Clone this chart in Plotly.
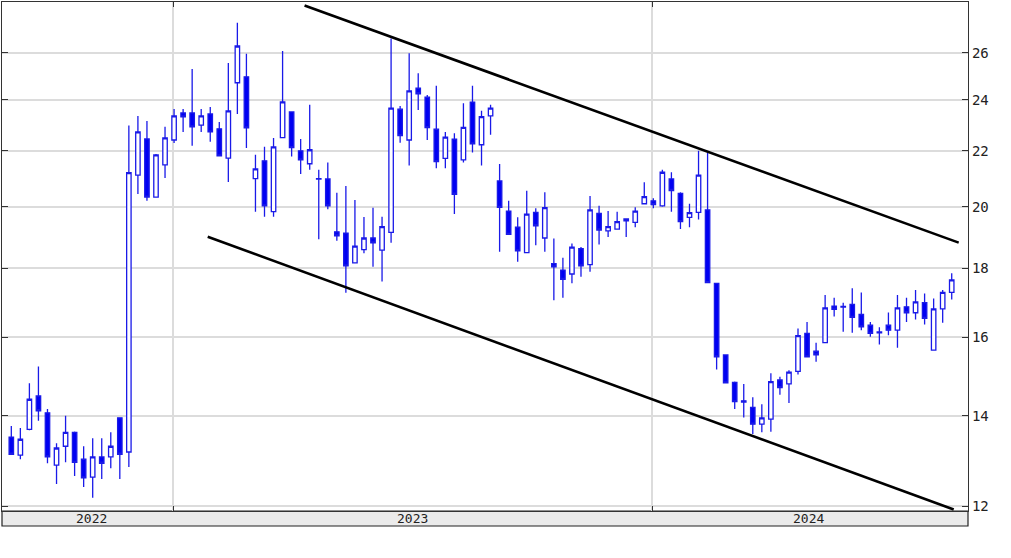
import plotly.graph_objects as go
import math

# Weekly OHLC values (price, log scale)
opens = [13.50, 13.09, 13.68, 14.48, 14.07, 12.87, 13.29, 13.61, 13.00, 12.61,
         13.05, 13.05, 13.95, 13.16, 21.11, 22.45, 20.33, 21.48, 22.41, 23.47,
         23.47, 22.99, 23.43, 22.84, 21.73, 24.71, 24.96, 20.98, 21.63, 19.83,
         22.50, 23.51, 22.00, 21.52, 20.96, 20.97, 19.16, 19.12, 18.17, 18.59,
         18.96, 18.57, 19.14, 23.62, 22.41, 24.48, 24.11, 22.83, 21.72, 22.44,
         21.66, 23.91, 22.23, 23.35, 20.90, 19.85, 19.31, 18.49, 19.81, 18.96,
         18.15, 17.95, 17.83, 18.62, 18.12, 19.77, 19.19, 19.25, 19.52, 19.47,
         20.10, 20.20, 20.03, 20.97, 20.46, 19.64, 19.81, 19.89, 17.55, 15.53,
         14.82, 14.36, 14.20, 13.80, 13.92, 14.88, 14.78, 15.10, 16.11, 15.63,
         15.86, 16.88, 16.85, 16.93, 16.64, 16.34, 16.13, 16.34, 16.20, 16.86,
         16.69, 16.98, 15.66, 16.80, 17.28]
highs = [13.76, 13.71, 14.80, 15.23, 14.16, 13.36, 14.00, 13.63, 13.29, 13.47,
         13.47, 13.61, 13.96, 22.97, 23.35, 23.15, 21.88, 22.92, 23.63, 23.63,
         25.30, 23.63, 23.71, 23.11, 25.56, 27.37, 25.96, 21.85, 22.15, 22.49,
         26.09, 23.53, 22.45, 23.80, 21.30, 21.57, 20.48, 20.72, 20.23, 19.65,
         19.96, 19.66, 26.65, 23.75, 25.99, 25.11, 24.20, 24.58, 22.72, 22.67,
         23.86, 24.58, 23.56, 23.80, 21.51, 20.20, 19.64, 20.55, 19.95, 20.50,
         18.94, 18.33, 18.78, 18.67, 20.37, 20.03, 19.85, 19.83, 19.61, 19.98,
         20.85, 20.29, 21.30, 21.21, 20.50, 20.10, 22.00, 21.92, 17.56, 15.55,
         14.84, 14.78, 14.45, 14.28, 15.05, 14.96, 15.13, 16.25, 16.43, 15.86,
         17.20, 17.12, 16.98, 17.40, 17.28, 16.43, 16.28, 16.70, 17.20, 17.12,
         17.35, 17.25, 17.10, 17.35, 17.85]
lows = [13.10, 13.00, 13.66, 13.88, 12.91, 12.46, 12.93, 12.63, 12.40, 12.17,
        12.57, 12.80, 12.57, 12.83, 20.44, 20.20, 20.31, 21.00, 22.30, 22.72,
        22.19, 22.72, 22.34, 21.80, 20.86, 23.43, 22.11, 19.83, 19.66, 19.66,
        22.48, 21.79, 21.15, 21.30, 18.92, 19.91, 18.87, 17.27, 18.15, 18.47,
        18.05, 17.60, 18.81, 22.31, 21.46, 23.59, 22.41, 21.36, 21.36, 19.75,
        21.57, 21.94, 21.46, 22.61, 18.52, 19.06, 18.21, 18.47, 18.73, 18.52,
        17.05, 17.12, 17.55, 17.75, 17.90, 18.75, 18.99, 19.24, 18.99, 19.31,
        20.09, 19.95, 20.00, 19.83, 19.25, 19.31, 19.57, 17.56, 15.15, 14.80,
        14.16, 13.96, 13.57, 13.61, 13.62, 14.51, 14.31, 15.02, 15.47, 15.35,
        15.85, 16.58, 16.16, 16.13, 16.20, 16.02, 15.81, 16.06, 15.72, 16.43,
        16.50, 16.36, 15.65, 16.41, 17.07]
closes = [13.11, 13.45, 14.40, 14.12, 13.05, 13.25, 13.61, 12.93, 12.59, 13.05,
          12.91, 13.29, 13.11, 21.20, 22.72, 20.33, 21.85, 22.49, 23.35, 23.31,
          22.92, 23.35, 22.72, 21.81, 23.55, 26.31, 22.88, 21.33, 20.03, 22.15,
          23.92, 22.12, 21.66, 22.04, 20.98, 20.03, 19.03, 18.08, 18.70, 18.96,
          18.80, 19.33, 23.66, 22.58, 24.37, 24.25, 22.89, 21.60, 22.52, 20.43,
          22.90, 22.26, 23.32, 23.66, 19.98, 19.08, 18.55, 19.75, 19.36, 19.97,
          18.05, 17.67, 18.67, 18.08, 19.89, 19.22, 19.33, 19.50, 19.59, 19.85,
          20.35, 20.07, 21.21, 20.56, 19.50, 19.80, 21.11, 17.57, 15.48, 14.81,
          14.34, 14.33, 13.80, 13.95, 14.84, 14.69, 15.08, 16.05, 15.48, 15.53,
          16.83, 16.79, 16.87, 16.56, 16.29, 16.11, 16.15, 16.20, 16.83, 16.69,
          17.00, 16.53, 16.80, 17.28, 17.65]
week_index = list(range(len(opens)))

# Axis labelling
year_labels = ["2022", "2023", "2024"]
year_label_pos = [8.9, 44.4, 88.2]
year_start_pos = [17.9, 70.9]
price_ticks = [12, 14, 16, 18, 20, 22, 24, 26]

# Channel trend lines (week index, price)
upper_trend_x = [32.43, 104.77]
upper_trend_y = [28.19, 18.81]
lower_trend_x = [21.72, 104.22]
lower_trend_y = [19.00, 11.93]

BLUE = "#1a1ae8"
W, H = 1011, 558
ML, MR, MT, MB = 2, 43, 2, 47
plot_h = H - MT - MB

fig = go.Figure()
fig.add_trace(go.Candlestick(
    x=week_index, open=opens, high=highs, low=lows, close=closes,
    increasing=dict(line=dict(color=BLUE, width=1.3), fillcolor="white"),
    decreasing=dict(line=dict(color=BLUE, width=1.3), fillcolor="#0000f2"),
    whiskerwidth=0, showlegend=False, hoverinfo="x+y",
))
fig.add_trace(go.Scatter(x=upper_trend_x, y=upper_trend_y, mode="lines",
                         line=dict(color="black", width=2.6), showlegend=False))
fig.add_trace(go.Scatter(x=lower_trend_x, y=lower_trend_y, mode="lines",
                         line=dict(color="black", width=2.6), showlegend=False))

band_h = 15 / plot_h
fig.add_shape(type="rect", xref="paper", yref="paper", x0=0, x1=1,
              y0=-band_h, y1=0, fillcolor="#ebebeb",
              line=dict(color="#222222", width=1.2), layer="below")
for lab, pos in zip(year_labels, year_label_pos):
    fig.add_annotation(x=pos, y=-band_h / 2, xref="x", yref="paper",
                       text=lab, showarrow=False, yanchor="middle",
                       font=dict(family="DejaVu Sans Mono", size=13, color="#222"))

fig.update_layout(
    width=W, height=H, autosize=False,
    margin=dict(l=ML, r=MR, t=MT, b=MB, pad=0),
    paper_bgcolor="white", plot_bgcolor="white",
    showlegend=False,
    xaxis=dict(range=[-1.03, 105.8], rangeslider=dict(visible=False),
               tickvals=year_start_pos, ticktext=["", ""],
               showgrid=True, gridcolor="#dcdcdc", gridwidth=1.5,
               ticks="inside", ticklen=5, tickcolor="#333",
               showline=True, linecolor="#333", linewidth=1.2, mirror="ticks",
               zeroline=False, fixedrange=True),
    yaxis=dict(type="log", range=[math.log10(11.90), math.log10(28.36)],
               side="right", tickvals=price_ticks,
               ticktext=[str(v) for v in price_ticks],
               showgrid=True, gridcolor="#dcdcdc", gridwidth=1.5,
               ticks="inside", ticklen=6, tickcolor="#333",
               showline=True, linecolor="#333", linewidth=1.2, mirror="ticks",
               tickfont=dict(family="DejaVu Sans Mono", size=14, color="#222"),
               zeroline=False),
)

fig.write_html("out.html", config={"displayModeBar": False},
               post_script="document.body.style.margin='0px';document.body.style.padding='0px';")
